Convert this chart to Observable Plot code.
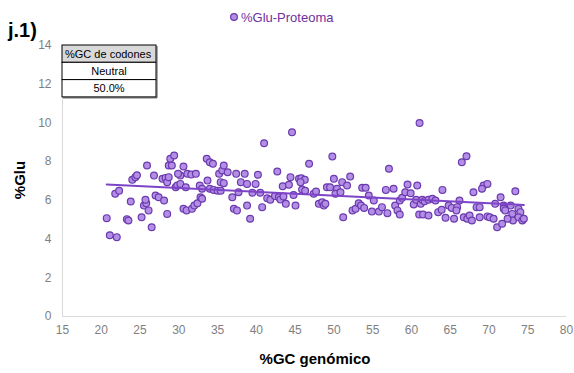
<!DOCTYPE html>
<html><head><meta charset="utf-8">
<script src="https://cdn.jsdelivr.net/npm/d3@7"></script>
<script src="https://cdn.jsdelivr.net/npm/@observablehq/plot@0.6"></script>
<style>body{margin:0;background:#fff;font-family:"Liberation Sans",Arial,sans-serif}</style>
</head><body><div id="chart"></div><script>
// %GC genómico (x) and %Glu-Proteoma (y)
const gcGenomico = [
20.7,21.1,22.0,21.8,22.3,23.3,23.5,23.8,24.0,24.4,24.6,25.2,25.5,25.8,25.7,25.9,26.1,26.5,26.8,27.0,27.4,28.1,27.9,28.3,28.5,28.7,28.7,28.9,29.4,28.5,29.6,
29.1,30.2,29.9,30.6,29.8,30.2,30.9,31.1,31.6,32.2,30.6,31.0,31.7,32.0,32.4,32.7,33.0,32.8,33.0,33.6,34.0,34.4,33.7,34.0,34.5,35.0,35.4,35.2,35.6,35.8,36.3,35.4,35.8,36.9,37.1,37.5,37.4,38.0,38.5,37.7,38.8,39.2,38.8,
44.6,41.0,39.9,40.2,39.5,40.5,40.75,41.4,41.8,42.4,42.9,43.1,43.5,43.8,42.7,43.4,44.2,44.4,45.05,44.8,45.5,45.8,46.25,45.7,45.9,46.3,46.8,47.4,47.7,48.06,48.5,48.7,
49.8,57.1,48.9,49.1,49.5,50.0,50.4,50.2,50.85,51.07,51.7,52.1,51.2,52.4,52.8,53.2,53.5,53.9,53.65,54.1,54.5,55.15,54.9,55.8,56.2,56.9,56.7,57.7,57.9,58.2,58.5,
61.05,66.5,67.1,58.8,59.2,59.5,59.9,60.75,60.3,60.6,61.2,61.4,61.7,62.2,62.7,63.1,58.5,61.0,61.5,62.2,64.0,63.45,63.9,64.4,64.8,65.2,65.5,65.9,66.2,65.8,66.75,67.2,67.5,67.8,68.0,
69.3,69.8,69.1,71.5,73.4,70.8,71.9,72.8,68.4,68.8,68.8,69.8,70.1,70.6,71.9,72.1,73.0,73.1,73.8,74.05,73.8,74.3,74.5,71.05,71.7,72.4
];
const gluProteoma = [
5.08,4.2,4.1,6.34,6.5,5.03,4.96,5.94,7.06,7.2,7.3,5.13,5.73,5.85,6.03,7.8,5.48,4.61,7.28,6.25,6.16,5.99,7.11,7.16,6.94,7.2,7.8,8.15,8.32,5.3,6.68,
7.8,7.28,7.37,7.75,6.77,6.85,6.68,7.37,7.33,7.37,5.56,5.48,5.56,5.73,5.85,6.77,6.6,6.16,6.08,8.15,7.97,7.89,7.02,6.6,6.54,6.5,6.5,7.37,7.54,7.8,7.45,6.94,6.89,6.16,5.56,5.48,7.37,6.94,7.37,6.42,5.73,5.05,6.85,
9.52,8.95,6.85,7.32,6.39,6.39,5.65,6.11,6.03,6.22,6.16,6.04,6.2,5.82,7.49,6.73,6.8,7.2,5.73,6.28,7.11,7.14,7.06,6.94,6.56,6.5,7.89,6.34,6.46,5.82,5.9,5.73,
8.26,7.63,5.82,6.68,6.68,7.11,6.6,6.34,6.42,6.94,6.77,7.23,5.13,5.48,5.56,5.85,5.73,5.61,6.65,6.65,6.25,5.99,5.42,5.42,5.65,5.34,6.54,6.6,5.73,5.48,5.99,
10.0,7.97,8.28,6.13,6.42,6.82,6.37,6.77,5.79,6.03,5.82,6.03,5.96,6.03,6.08,5.99,5.27,5.27,5.27,5.22,6.54,5.39,5.51,5.1,5.73,5.61,5.05,5.65,5.99,5.48,5.13,5.05,5.22,4.96,6.42,
6.77,6.85,6.6,6.16,6.47,5.82,5.73,5.73,5.65,5.65,5.13,5.17,5.13,5.05,5.56,5.48,5.3,4.96,5.56,5.39,5.13,4.96,5.05,4.61,4.79,5.05
];
const xTicks = [15,20,25,30,35,40,45,50,55,60,65,70,75,80];
const yTicks = [0,2,4,6,8,10,12,14];
const seriesName = "%Glu-Proteoma";
const panelLabel = "j.1)";
const xTitle = "%GC genómico";
const yTitle = "%Glu";
const tableRows = ["%GC de codones", "Neutral", "50.0%"];

const data = gcGenomico.map((x, i) => ({x, y: gluProteoma[i]}));
const font = "'Liberation Sans', Arial, sans-serif";
const fillC = "#b38ee6", strokeC = "#6b3aad", lineC = "#7d44c8";

const plot = Plot.plot({
  width: 574, height: 373,
  marginLeft: 62, marginRight: 8, marginTop: 45, marginBottom: 57,
  style: {fontFamily: font, background: "#fff"},
  x: {domain: [15, 80]},
  y: {domain: [0, 14]},
  marks: [
    Plot.ruleX([15], {stroke: "#d9d9d9", strokeWidth: 1}),
    Plot.ruleY([0], {stroke: "#d9d9d9", strokeWidth: 1}),
    Plot.axisX({ticks: xTicks, tickSize: 0, tickPadding: 9, fill: "#7f7f7f", fontSize: 12, label: null}),
    Plot.axisY({ticks: yTicks, tickSize: 0, tickPadding: 11, fill: "#7f7f7f", fontSize: 12, label: null}),
    Plot.dot(data, {x: "x", y: "y", r: 3.4, fill: fillC, stroke: strokeC, strokeWidth: 1.2}),
    Plot.linearRegressionY(data, {x: "x", y: "y", stroke: lineC, strokeWidth: 2, ci: 0})
  ]
});

const svg = d3.select(plot);
// panel label
svg.append("text").attr("x", 8).attr("y", 37).attr("text-anchor", "start").attr("font-size", 20).attr("font-weight", "bold")
  .attr("fill", "#000").attr("font-family", font).text(panelLabel);
// legend
svg.append("circle").attr("cx", 234).attr("cy", 17).attr("r", 3.4)
  .attr("fill", fillC).attr("stroke", strokeC).attr("stroke-width", 1.2);
svg.append("text").attr("x", 241).attr("y", 22).attr("text-anchor", "start").attr("font-size", 13).attr("fill", "#7030a0")
  .attr("font-family", font).text(seriesName);
// axis titles
svg.append("text").attr("x", 315).attr("y", 364).attr("text-anchor", "middle").attr("font-size", 15)
  .attr("font-weight", "bold").attr("fill", "#000").attr("font-family", font).text(xTitle);
svg.append("text").attr("transform", "translate(25,180) rotate(-90)").attr("text-anchor", "middle")
  .attr("font-size", 15).attr("font-weight", "bold").attr("fill", "#000").attr("font-family", font).text(yTitle);
// table
const tx = 62, tw = 94, th = 17.3, ty = 45;
tableRows.forEach((t, i) => {
  svg.append("rect").attr("x", tx).attr("y", ty + i * th).attr("width", tw).attr("height", th)
    .attr("fill", i === 0 ? "#d9d9d9" : "#fff").attr("stroke", "#000").attr("stroke-width", 1);
  svg.append("text").attr("x", i === 0 ? tx + 3 : tx + tw / 2).attr("y", ty + i * th + 12.5)
    .attr("text-anchor", i === 0 ? "start" : "middle").attr("font-size", 11).attr("fill", "#000")
    .attr("font-family", font).text(t);
});
svg.append("rect").attr("x", tx + 1).attr("y", ty + 3 * th).attr("width", tw).attr("height", 1.5).attr("fill", "#555");
svg.append("rect").attr("x", tx + tw).attr("y", ty + 1).attr("width", 1.5).attr("height", 3 * th).attr("fill", "#555");
document.getElementById("chart").appendChild(plot);
</script></body></html>
